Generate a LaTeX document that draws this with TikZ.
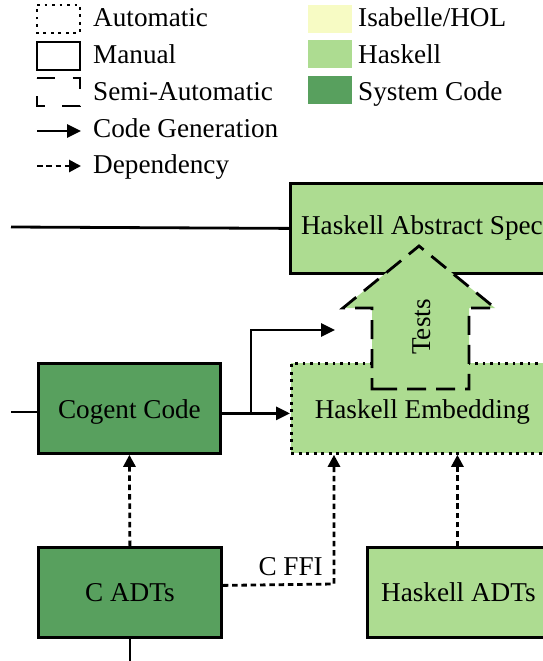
\documentclass[tikz,border=0pt]{standalone}
\usepackage{fontspec}
\setmainfont{Liberation Serif}
\usetikzlibrary{arrows.meta}
\definecolor{isab}{HTML}{F7FBC4}
\definecolor{hask}{HTML}{ADDC91}
\definecolor{sysc}{HTML}{58A05E}
\begin{document}
\begin{tikzpicture}[x=1pt,y=-1pt,
  every node/.style={font=\fontsize{27.2}{31}\selectfont},
  lw/.style={line width=2.8pt},
  box/.style={draw, line width=2.8pt, inner sep=0pt, minimum height=90pt, anchor=north west},
  lowtext/.style={text height=27pt, text depth=6pt},
  dotpat/.style={dash pattern=on 2.8pt off 4.7pt},
  semipat/.style={dash pattern=on 19pt off 10pt},
  dep/.style={line width=2.8pt, dash pattern=on 5.5pt off 3.8pt, -{Triangle[length=12pt,width=12pt]}},
  gen/.style={line width=2.8pt, -{Triangle[length=14pt,width=13pt]}},
  legtext/.style={anchor=base west, inner sep=0pt}
]
\useasboundingbox (0,0) rectangle (543,661);
\clip (0,0) rectangle (543,661);

% ---------- legend (left) ----------
\draw[lw, dotpat] (37,5) -- (80,5) -- (80,33) -- (37,33) -- cycle;
\node[legtext] (lauto) at (93,27) {Automatic};
\draw[lw] (37,42) rectangle (80,70);
\node[legtext] (lman) at (93,63.5) {Manual};
\draw[lw, dash pattern=on 18pt off 17.5pt] (37,78) -- (80,78) -- (80,106) -- (37,106) -- cycle;
\node[legtext] (lsemi) at (93,100) {Semi-Automatic};
\coordinate (g1) at (37,131);
\coordinate (g2) at (81,131);
\draw[gen] (g1) -- (g2);
\node[legtext] (lgen) at (93,137) {Code Generation};
\coordinate (d1) at (37,166);
\coordinate (d2) at (81,166);
\draw[dep] (d1) -- (d2);
\node[legtext] (ldep) at (93,173.5) {Dependency};

% ---------- legend (right) ----------
\fill[isab] (308,5) rectangle (352,33);
\node[legtext] (lisa) at (358,27) {Isabelle/HOL};
\fill[hask] (308,40) rectangle (352,68);
\node[legtext] (lhas) at (358,63.5) {Haskell};
\fill[sysc] (308,76) rectangle (352,104);
\node[legtext] (lsys) at (358,100) {System Code};

% ---------- boxes ----------
\node[box, fill=hask, minimum width=263pt] (spec) at (289,182) {Haskell Abstract Spec};
\node[box, fill=hask, dotpat, lowtext, minimum width=262pt] (embed) at (290,362) {Haskell Embedding};
\node[box, fill=sysc, lowtext, minimum width=182pt] (cogent) at (37,362) {Cogent Code};
\node[box, fill=sysc, minimum width=183pt] (cadts) at (37,546) {C ADTs};
\node[box, fill=hask, minimum width=182pt] (hadts) at (366,546) {Haskell ADTs};

% ---------- Tests arrow ----------
\draw[fill=hask, line width=2.8pt, semipat]
  (380,389) -- (372,389) -- (372,308) -- (343,308) -- (419,246) -- (495,308)
  -- (469,308) -- (469,389) -- cycle;
\node[rotate=90] (tests) at (422,327) {Tests};

% ---------- connectors ----------
\coordinate (specin) at (11,227);
\draw[lw] (specin) -- (spec.west);

\coordinate (cin) at (11,412);
\draw[lw] (cin) -- (cin -| cogent.west);
\draw[gen] ([yshift=-5pt]cogent.east) -- ([yshift=-5pt]embed.west);
\coordinate (br) at (251,412);
\coordinate (upend) at (335,330);
\draw[gen] (br) |- (upend);

\draw[dep] (cadts.north) -- (cogent.south);
\coordinate (ffibend) at (334,584);
\draw[dep] ([yshift=7pt]cadts.east) -- (ffibend) -- (ffibend |- embed.south);
\node[anchor=base east, inner sep=0pt] (cffi) at (323,575) {C FFI};
\draw[dep] ([xshift=-1pt]hadts.north) -- ([xshift=-1pt]hadts.north |- embed.south);

\coordinate (cout) at (0,665);
\draw[lw] (cadts.south) -- (cadts.south |- cout);
\end{tikzpicture}
\end{document}
